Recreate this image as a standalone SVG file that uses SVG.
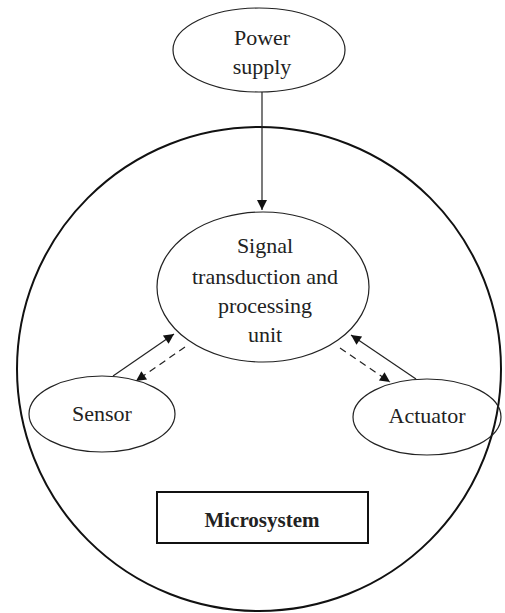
<svg xmlns="http://www.w3.org/2000/svg" width="505" height="613" viewBox="0 0 505 613">
<style>
.n{fill:none;stroke:#222;stroke-width:1.2}
.t{font-family:"Liberation Serif","Times New Roman",serif;font-size:22px;fill:#222;text-anchor:middle}
.c{stroke:#222;stroke-width:1.2;fill:none}
.d{stroke-dasharray:7 5}
</style>
<defs>
<marker id="ah" viewBox="0 0 10 10" refX="10" refY="5" markerWidth="12" markerHeight="10" markerUnits="userSpaceOnUse" orient="auto">
<path d="M0,0 L10,5 L0,10 Z" fill="#111"/>
</marker>
</defs>
<rect width="505" height="613" fill="#fff"/>
<g id="microsystem-boundary">
<circle cx="259" cy="369" r="242" fill="none" stroke="#111" stroke-width="2"/>
</g>
<g id="power-supply">
<ellipse class="n" cx="259" cy="50" rx="86" ry="42"/>
<text class="t" x="262" y="45">Power</text>
<text class="t" x="262" y="74">supply</text>
</g>
<g id="processing-unit">
<ellipse class="n" cx="263" cy="287" rx="106" ry="75"/>
<text class="t" x="265" y="253">Signal</text>
<text class="t" x="265" y="284">transduction and</text>
<text class="t" x="265" y="313">processing</text>
<text class="t" x="265" y="342">unit</text>
</g>
<g id="sensor">
<ellipse class="n" cx="102" cy="414" rx="73" ry="38"/>
<text class="t" x="102" y="421">Sensor</text>
</g>
<g id="actuator">
<ellipse class="n" cx="427" cy="417" rx="74" ry="38"/>
<text class="t" x="427" y="423">Actuator</text>
</g>
<g id="label">
<rect x="157" y="492" width="211" height="51" fill="none" stroke="#111" stroke-width="2"/>
<text class="t" x="262" y="527" style="font-weight:bold;font-size:21px">Microsystem</text>
</g>
<g id="connectors">
<line class="c" x1="262" y1="92" x2="262" y2="210" marker-end="url(#ah)"/>
<line class="c" x1="113" y1="376" x2="174" y2="334" marker-end="url(#ah)"/>
<line class="c d" x1="185" y1="347" x2="136" y2="381" marker-end="url(#ah)"/>
<line class="c" x1="416" y1="379" x2="351" y2="335" marker-end="url(#ah)"/>
<line class="c d" x1="340" y1="348" x2="390" y2="382" marker-end="url(#ah)"/>
</g>
</svg>
